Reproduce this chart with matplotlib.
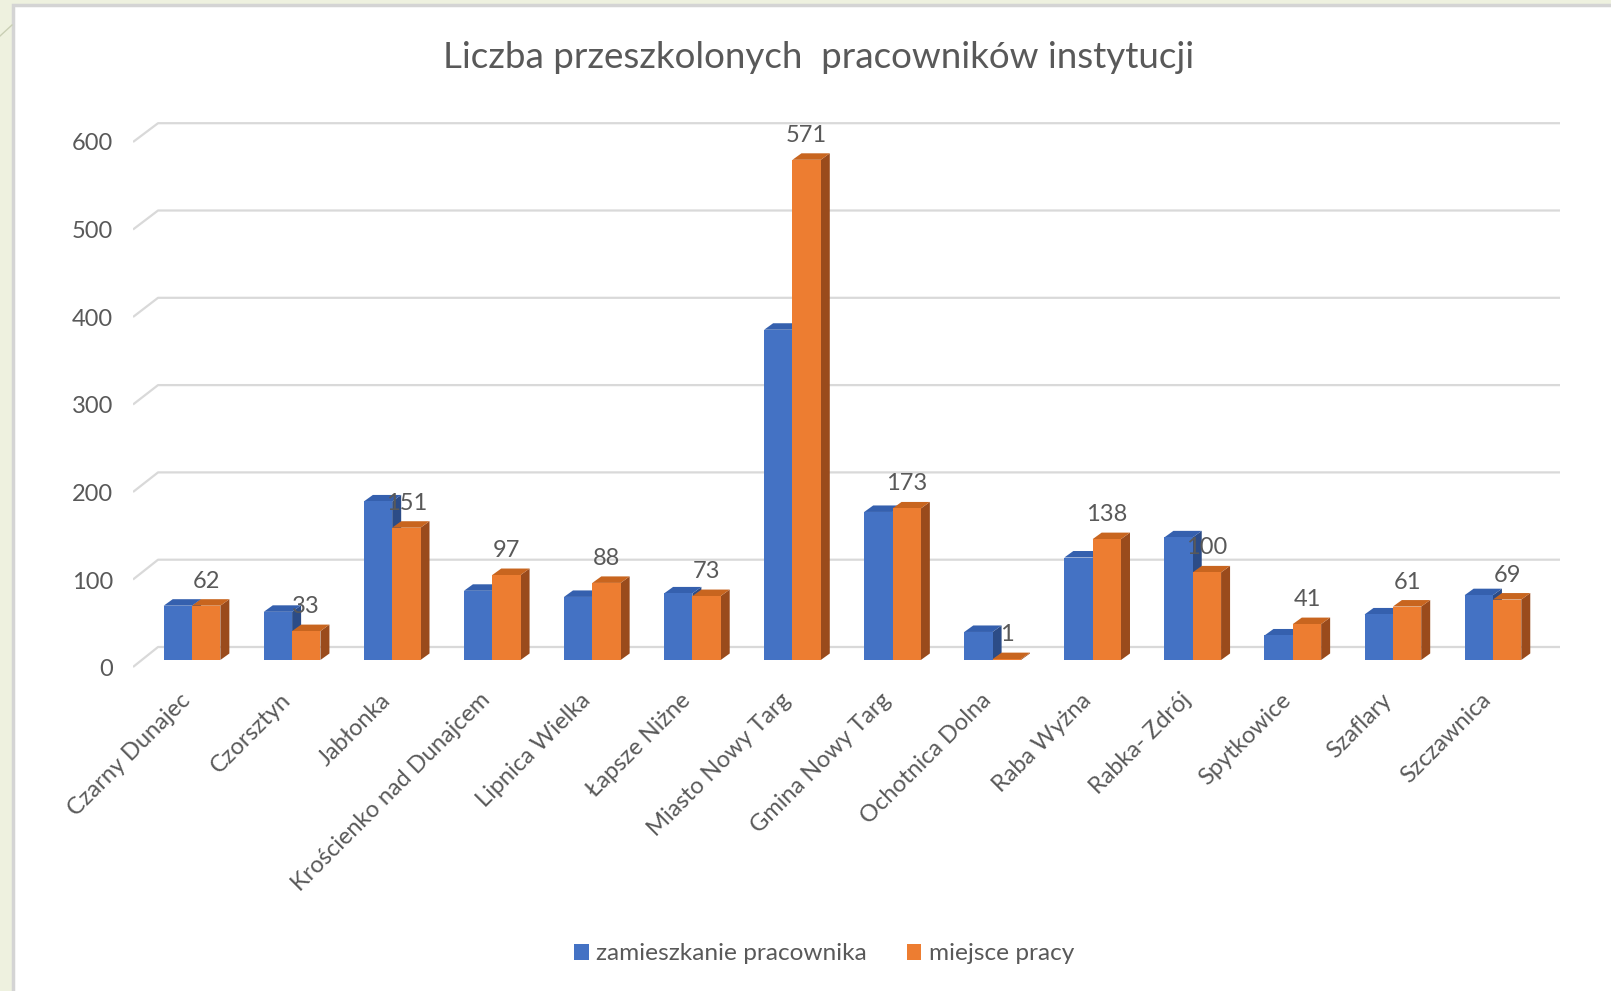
import numpy as np
import matplotlib.pyplot as plt
from matplotlib.patches import Rectangle, Polygon, Patch
from matplotlib.lines import Line2D

plt.rcParams['font.family'] = ['Lato', 'DejaVu Sans']

gminy = ['Czarny Dunajec', 'Czorsztyn', 'Jabłonka', 'Krościenko nad Dunajcem',
         'Lipnica Wielka', 'Łapsze Niżne', 'Miasto Nowy Targ', 'Gmina Nowy Targ',
         'Ochotnica Dolna', 'Raba Wyżna', 'Rabka- Zdrój', 'Spytkowice',
         'Szaflary', 'Szczawnica']
zamieszkanie = [62, 55, 181, 79, 72, 76, 377, 169, 32, 117, 140, 28, 52, 74]
miejsce_pracy = [62, 33, 151, 97, 88, 73, 571, 173, 1, 138, 100, 41, 61, 69]
y_ticks = [0, 100, 200, 300, 400, 500, 600]
seria = ['zamieszkanie pracownika', 'miejsce pracy']

TXT = '#595959'
GRID = '#d9d9d9'
kolory = {
    'blue': ('#4472c4', '#3560ae', '#2c4c87'),
    'orange': ('#ed7d31', '#c8651f', '#9a4b1c'),
}

W, H = 1611, 991
fig = plt.figure(figsize=(W / 100, H / 100), dpi=100, facecolor='#eef1df')

# white chart area with grey frame (behind the axes)
fig.add_artist(Rectangle((13 / W, -0.01), 1.1, 1 - 5 / H + 0.01, transform=fig.transFigure,
                         facecolor='white', edgecolor='#d4d4d4', linewidth=2.5, zorder=-2))
fig.add_artist(Line2D([0, 12 / W], [1 - 36 / H, 1 - 25 / H], transform=fig.transFigure,
                      color='#c9cfb4', linewidth=1, zorder=-1))

# axes geometry in pixels: x -> 192 + 100.07*i, y -> 660 - 0.876*v
px_x = 100.07
px_y = 0.876
xlim = (-0.59, 13.67)
ylim = (-30, 640)
left = 133 / W
right = 1560 / W
bottom = 1 - (660 - ylim[0] * px_y) / H
top = 1 - (660 - ylim[1] * px_y) / H
ax = fig.add_axes([left, bottom, right - left, top - bottom])
ax.set_xlim(*xlim)
ax.set_ylim(*ylim)
ax.axis('off')

# gridlines: front edge on the left, then receding to the back wall
x_back = (158 - 192) / px_x
for v in y_ticks:
    y_front = (-7 + 0.875 * v) / px_y
    y_back = (13 + 0.873 * v) / px_y
    ax.plot([xlim[0], x_back, xlim[1]], [y_front, y_back, y_back],
            color=GRID, linewidth=1.6, zorder=1, solid_capstyle='butt')
    ax.text((113 - 192) / px_x, (-10 + 0.877 * v) / px_y, str(v), ha='right', va='center',
            fontsize=17, color=TXT)

# pseudo-3D bars
w = 0.283
dx = 9 / px_x
dy = 6.5 / px_y
x = np.arange(len(gminy))


def bar3d(x0, v, cols, z):
    front, topc, side = cols
    ax.add_patch(Polygon([(x0 + w, 0), (x0 + w + dx, dy), (x0 + w + dx, v + dy), (x0 + w, v)],
                         closed=True, facecolor=side, edgecolor='none', zorder=z))
    ax.add_patch(Polygon([(x0, v), (x0 + dx, v + dy), (x0 + w + dx, v + dy), (x0 + w, v)],
                         closed=True, facecolor=topc, edgecolor='none', zorder=z))
    ax.add_patch(Rectangle((x0, 0), w, v, facecolor=front, edgecolor='none', zorder=z))


for i in x:
    bar3d(i - w, zamieszkanie[i], kolory['blue'], 3)
    bar3d(i, miejsce_pracy[i], kolory['orange'], 4)
    ax.text(i + w / 2, miejsce_pracy[i] + 28, str(miejsce_pracy[i]),
            ha='center', va='center', fontsize=17, color=TXT, zorder=6)

# category labels
for i, name in enumerate(gminy):
    ax.text(i - 0.05, -42, name, rotation=45, rotation_mode='anchor',
            ha='right', va='center', fontsize=17, color=TXT, clip_on=False)

fig.text(819 / W, 1 - 57 / H, 'Liczba przeszkolonych  pracowników instytucji',
         ha='center', va='center', fontsize=26.5, color=TXT)

handles = [Patch(facecolor=kolory['blue'][0]), Patch(facecolor=kolory['orange'][0])]
fig.legend(handles, seria, loc='center', bbox_to_anchor=(824 / W, 1 - 954 / H), ncol=2,
           frameon=False, fontsize=17.6, labelcolor=TXT, handlelength=0.6, handleheight=0.6,
           handletextpad=0.3, columnspacing=1.63)

fig.savefig('out.png', dpi=100, facecolor=fig.get_facecolor())
